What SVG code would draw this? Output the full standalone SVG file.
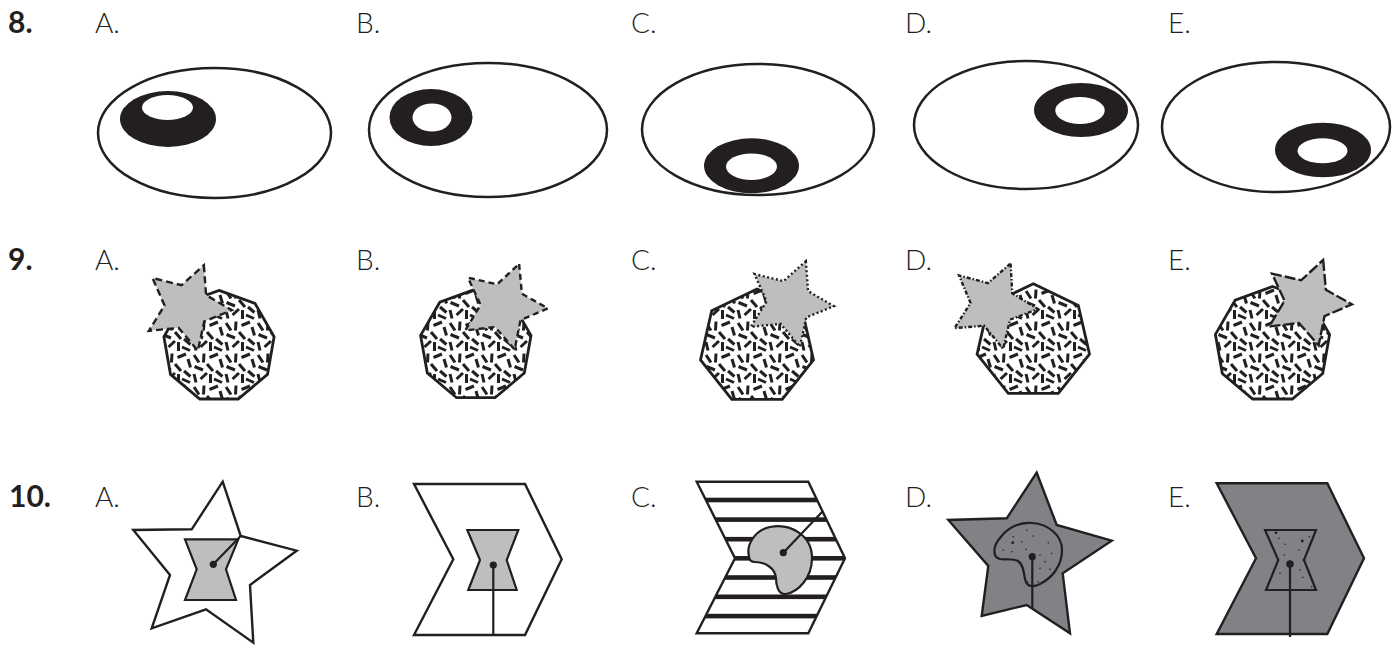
<svg xmlns="http://www.w3.org/2000/svg" xmlns:xlink="http://www.w3.org/1999/xlink" width="1394" height="646" viewBox="0 0 1394 646">
<style>
.num{font-family:Lato,"Liberation Sans",sans-serif;font-weight:700;font-size:30px;fill:#231f20}
.lbl{font-family:Lato,"Liberation Sans",sans-serif;font-weight:300;font-size:28px;fill:#231f20}
.outer{fill:#fff;stroke:#231f20;stroke-width:2.5}
.ring{fill:#231f20}
.hole{fill:#fff}
.poly{fill:url(#confetti);stroke:#231f20;stroke-width:2.8;stroke-linejoin:miter}
.star9{fill:#bcbec0;stroke:#231f20;stroke-width:2.4}
.ln{fill:none;stroke:#231f20;stroke-width:2.2}
.light{fill:#bcbec0;stroke:#231f20;stroke-width:2.2;stroke-linejoin:miter}
.dark{fill:#808285;stroke:#231f20;stroke-width:2.4;stroke-linejoin:miter}
.white{fill:#fff;stroke:#231f20;stroke-width:2.4;stroke-linejoin:miter}
.dot{fill:#231f20}
</style>
<defs>
<pattern id="confetti" patternUnits="userSpaceOnUse" width="32" height="32">
<rect width="32" height="32" fill="#fff"/>
<g stroke="#231f20" stroke-width="3" stroke-linecap="butt">
<line x1="2" y1="3" x2="7" y2="10.5"/>
<line x1="12" y1="1.5" x2="11.5" y2="10.5"/>
<line x1="17.5" y1="5.5" x2="26" y2="2"/>
<line x1="28" y1="7" x2="30.5" y2="15.5"/>
<line x1="2.5" y1="14.5" x2="11" y2="18"/>
<line x1="15" y1="12" x2="21" y2="19"/>
<line x1="24" y1="19" x2="30.5" y2="24.5"/>
<line x1="2" y1="22" x2="4" y2="30.5"/>
<line x1="8.5" y1="27" x2="15" y2="21"/>
<line x1="18.5" y1="22" x2="18.5" y2="31"/>
<line x1="22" y1="27" x2="30" y2="30.5"/>
</g>
</pattern>
<path id="star" d="M0,-45 L13.23,-18.2 L42.8,-13.9 L21.4,6.95 L26.45,36.4 L0,22.5 L-26.45,36.4 L-21.4,6.95 L-42.8,-13.9 L-13.23,-18.2 Z"/>
<clipPath id="chevC"><polygon points="696.7,481.7 808.3,481.7 845,558.3 808.3,633.3 696.7,633.3 735,558.3"/></clipPath>
</defs>

<g id="labels">
<text class="num" x="8" y="33">8.</text>
<text class="num" x="8" y="270">9.</text>
<text class="num" x="9" y="507">10.</text>
<text class="lbl" x="95" y="33">A.</text>
<text class="lbl" x="356" y="33">B.</text>
<text class="lbl" x="631" y="33">C.</text>
<text class="lbl" x="905" y="33">D.</text>
<text class="lbl" x="1168" y="33">E.</text>
<text class="lbl" x="95" y="270">A.</text>
<text class="lbl" x="356" y="270">B.</text>
<text class="lbl" x="631" y="270">C.</text>
<text class="lbl" x="905" y="270">D.</text>
<text class="lbl" x="1168" y="270">E.</text>
<text class="lbl" x="95" y="507">A.</text>
<text class="lbl" x="356" y="507">B.</text>
<text class="lbl" x="631" y="507">C.</text>
<text class="lbl" x="905" y="507">D.</text>
<text class="lbl" x="1168" y="507">E.</text>
</g>

<!-- Row 8 -->
<g id="q8A">
<ellipse class="outer" cx="214.5" cy="133" rx="116.5" ry="65"/>
<ellipse class="ring" cx="168" cy="119" rx="48" ry="28"/>
<ellipse class="hole" cx="167.5" cy="107.5" rx="25.5" ry="12.5"/>
</g>
<g id="q8B">
<ellipse class="outer" cx="488" cy="130" rx="119" ry="67"/>
<ellipse class="ring" cx="431" cy="117.5" rx="41.5" ry="28.5"/>
<ellipse class="hole" cx="432" cy="117.5" rx="19.5" ry="14"/>
</g>
<g id="q8C">
<ellipse class="outer" cx="758" cy="129.5" rx="116" ry="65.5"/>
<ellipse class="ring" cx="751.5" cy="165.8" rx="47.5" ry="27.5"/>
<ellipse class="hole" cx="751.5" cy="166.7" rx="25.5" ry="13.3"/>
</g>
<g id="q8D">
<ellipse class="outer" cx="1026" cy="125" rx="112" ry="64"/>
<ellipse class="ring" cx="1081" cy="110" rx="47" ry="27"/>
<ellipse class="hole" cx="1080" cy="110.5" rx="24.7" ry="13.5"/>
</g>
<g id="q8E">
<ellipse class="outer" cx="1276" cy="127" rx="114" ry="65"/>
<ellipse class="ring" cx="1323" cy="150" rx="48" ry="27.3"/>
<ellipse class="hole" cx="1322.5" cy="150.8" rx="25" ry="12.5"/>
</g>

<!-- Row 9 -->
<g id="q9A">
<polygon class="poly" points="219,290.4 255,303.5 274.1,336.7 267.5,374.4 238.2,399 199.8,399 170.5,374.4 163.9,336.7 183,303.5"/>
<use xlink:href="#star" class="star9" stroke-dasharray="7 4" transform="translate(187,307) rotate(22)"/>
</g>
<g id="q9B">
<polygon class="poly" points="475.8,289.1 511.8,302.2 531,335.4 524.3,373.1 495,397.7 456.6,397.7 427.3,373.1 420.6,335.4 439.8,302.2"/>
<use xlink:href="#star" class="star9" stroke-dasharray="6 4" transform="translate(503,306) rotate(21)"/>
</g>
<g id="q9C">
<polygon class="poly" points="757,289 802.3,310.8 813.5,359.9 782.2,399.3 731.8,399.3 700.5,359.9 711.7,310.8"/>
<use xlink:href="#star" class="star9" stroke-dasharray="2 2.5" transform="translate(789,303) rotate(22)"/>
</g>
<g id="q9D">
<polygon class="poly" points="1033.3,283.8 1078.3,305.5 1089.5,354.2 1058.3,393.3 1008.3,393.3 977.1,354.2 988.3,305.5"/>
<use xlink:href="#star" class="star9" stroke-dasharray="4 2 1.5 2" transform="translate(993,305) rotate(23)"/>
</g>
<g id="q9E">
<polygon class="poly" points="1272.5,286.5 1309.8,300.1 1329.6,334.4 1322.7,373.5 1292.3,399 1252.7,399 1222.3,373.5 1215.4,334.4 1235.2,300.1"/>
<use xlink:href="#star" class="star9" stroke-dasharray="11 3" transform="translate(1307,302) rotate(21)"/>
</g>

<!-- Row 10 -->
<g id="q10A">
<polygon class="white" points="222.7,481.7 240.7,536 296.7,550.7 250,585 253.3,642.7 206,609.3 151.7,628.3 170,575 133.3,530 191.7,529.3"/>
<polygon class="light" points="185,539.3 238.3,539.3 226,569.3 236,600 185,600 196.7,569.3"/>
<line class="ln" x1="213.3" y1="564.3" x2="240.7" y2="536"/>
<circle class="dot" cx="213.3" cy="564.3" r="3.6"/>
</g>
<g id="q10B">
<polygon class="white" points="414,484 525,484 561.7,559.3 525,635 414,635 453.3,559.3"/>
<polygon class="light" points="467.3,530 518.3,530 506.7,560 516.7,590 468.3,590 480,560"/>
<line class="ln" x1="493.3" y1="565" x2="493.3" y2="635"/>
<circle class="dot" cx="493.3" cy="565" r="3.6"/>
</g>
<g id="q10C">
<polygon points="696.7,481.7 808.3,481.7 845,558.3 808.3,633.3 696.7,633.3 735,558.3" fill="#fff"/>
<g clip-path="url(#chevC)" fill="#231f20">
<rect x="690" y="497.7" width="160" height="4.6"/>
<rect x="690" y="517.3" width="160" height="4.6"/>
<rect x="690" y="536.9" width="160" height="4.6"/>
<rect x="690" y="556" width="160" height="4.6"/>
<rect x="690" y="575.2" width="160" height="4.6"/>
<rect x="690" y="594.5" width="160" height="4.6"/>
<rect x="690" y="613.8" width="160" height="4.6"/>
</g>
<polygon points="696.7,481.7 808.3,481.7 845,558.3 808.3,633.3 696.7,633.3 735,558.3" fill="none" stroke="#231f20" stroke-width="2.4"/>
<path class="light" d="M749,556 C746,545 755,530 770,527 C790,523 812,535 812,558 C812,578 798,592 786,594 C778,595 776,585 776,578 C775,568 765,562 755,562 C750,562 749,559 749,556 Z"/>
<line class="ln" x1="783.3" y1="552.7" x2="822.5" y2="511.5"/>
<circle class="dot" cx="783.3" cy="552.7" r="3.6"/>
</g>
<g id="q10D">
<polygon class="dark" points="1036.7,472.7 1056.7,525 1111.7,540.7 1062.7,573.3 1070,633.3 1026.7,605 981.7,616 988.3,566 948.3,520 1006.7,518.3"/>
<path d="M1000,559 C992,557 993,546 1000,538 C1008,527 1020,522 1032,523 C1048,524 1062,535 1062,550 C1062,566 1052,578 1040,584 C1034,587 1028,587 1026,582 C1023,575 1025,566 1018,561 C1012,558 1005,560 1000,559 Z" fill="#808285" stroke="#231f20" stroke-width="2.2"/>
<g class="dot">
<circle cx="1026.7" cy="530" r="0.8"/><circle cx="1013.3" cy="536.7" r="0.8"/><circle cx="1012.7" cy="542.7" r="1.4"/>
<circle cx="1021.7" cy="541.7" r="0.8"/><circle cx="1033.3" cy="536" r="0.8"/><circle cx="1048.3" cy="542.7" r="0.8"/>
<circle cx="1003.3" cy="550" r="0.8"/><circle cx="1011.7" cy="551.7" r="0.8"/><circle cx="1026" cy="549.3" r="0.8"/>
<circle cx="1040" cy="555" r="0.8"/><circle cx="1051.7" cy="553.3" r="0.8"/><circle cx="1045" cy="561.7" r="0.8"/>
<circle cx="1040" cy="568.3" r="0.8"/><circle cx="1050" cy="569.3" r="0.8"/><circle cx="1038.3" cy="581.7" r="0.8"/>
<circle cx="1027.5" cy="582" r="0.8"/>
</g>
<line class="ln" x1="1032.3" y1="556.7" x2="1032.3" y2="608.5"/>
<circle class="dot" cx="1032.3" cy="556.7" r="3.6"/>
</g>
<g id="q10E">
<polygon class="dark" points="1216.7,483.3 1327.3,483.3 1364,558.3 1327.3,634 1216.7,634 1256,558.3"/>
<polygon class="dark" points="1265,530 1316,530 1304,560 1316,590 1266,590 1278.3,560" style="stroke-width:2.2"/>
<g class="dot">
<circle cx="1276" cy="532.7" r="1.3"/><circle cx="1279" cy="538.3" r="0.8"/><circle cx="1285" cy="544.3" r="0.8"/>
<circle cx="1302.3" cy="541" r="1.4"/><circle cx="1309.3" cy="536.7" r="0.8"/><circle cx="1299" cy="550" r="0.8"/>
<circle cx="1284.3" cy="555" r="0.8"/><circle cx="1303" cy="560" r="0.8"/><circle cx="1300" cy="570" r="0.8"/>
<circle cx="1280" cy="573.3" r="0.8"/><circle cx="1302.7" cy="577.3" r="0.8"/><circle cx="1311.7" cy="586.7" r="0.8"/>
</g>
<line class="ln" x1="1290" y1="564" x2="1290" y2="637"/>
<circle class="dot" cx="1290" cy="564" r="3.8"/>
</g>
</svg>
